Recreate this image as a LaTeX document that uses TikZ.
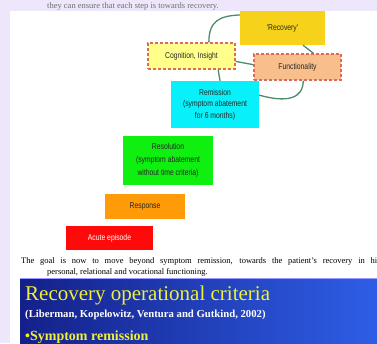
\documentclass[tikz,border=0pt]{standalone}
\usepackage{fontspec}
\setmainfont{Liberation Serif}
\newfontfamily\boxfont[FakeStretch=0.8]{Liberation Sans}
\usetikzlibrary{calc}
\definecolor{lav}{HTML}{EEE6FA}
\definecolor{recfill}{HTML}{F6D31A}
\definecolor{cogfill}{HTML}{FFFF8A}
\definecolor{funfill}{HTML}{F8BE8C}
\definecolor{dashred}{HTML}{DD6A5A}
\definecolor{remfill}{HTML}{08F0FA}
\definecolor{resfill}{HTML}{10F010}
\definecolor{respfill}{HTML}{FF9A08}
\definecolor{acutefill}{HTML}{FF0A0A}
\definecolor{conn}{HTML}{4C8C6A}
\definecolor{navyL}{HTML}{14208A}
\definecolor{blueR}{HTML}{2E5EE6}
\definecolor{ttlyellow}{HTML}{F0F03A}
\definecolor{topgray}{HTML}{707070}
\tikzset{
  stagebox/.style={draw=none, inner sep=0pt, align=center, text=black!85,
    font=\boxfont\fontsize{8.5}{11.5}\selectfont},
  dashbox/.style={stagebox, draw=dashred, line width=1.1pt, dash pattern=on 3pt off 2pt},
  connector/.style={draw=conn, line width=1.3pt},
  serif/.style={inner sep=0pt, anchor=base west}
}
\begin{document}
\begin{tikzpicture}[x=1pt,y=-1pt]
\useasboundingbox (0,0) rectangle (377,343);
\fill[white] (0,0) rectangle (377,343);
\fill[lav] (0,0) rectangle (377,11);
\fill[lav] (0,0) rectangle (10,343);
\node[serif, text=topgray, font=\fontsize{8.5}{10}\selectfont] (toptext) at (47,8) {they can ensure that each step is towards recovery.};

% stage boxes
\node[stagebox, fill=recfill, minimum width=85pt, minimum height=34pt] (rec) at (282.5,28) {'Recovery'};
\node[dashbox, fill=cogfill, minimum width=87pt, minimum height=26pt] (cog) at (191.5,56) {Cognition, Insight};
\node[dashbox, fill=funfill, minimum width=87pt, minimum height=26pt] (fun) at (297.5,67) {Functionality};
\node[stagebox, fill=remfill, minimum width=88pt, minimum height=47pt] (rem) at (215,104.5) {Remission\\(symptom abatement\\for 6 months)};
\node[stagebox, fill=resfill, minimum width=90pt, minimum height=49pt, font=\boxfont\fontsize{8.5}{13}\selectfont] (res) at (168,160.5) {Resolution\\(symptom abatement\\without time criteria)};
\node[stagebox, fill=respfill, minimum width=80pt, minimum height=25pt] (resp) at (145,206.5) {Response};
\node[stagebox, fill=acutefill, minimum width=87pt, minimum height=24pt, text=white] (acute) at (109.5,238) {Acute episode};

% connectors
\draw[connector] (cog.38) .. controls +(0,-22) and +(-20,1) .. (rec.163);
\draw[connector] (rec.-40) -- (fun.40);
\draw[connector] (fun.177) -- (cog.-7);
\draw[connector] (rem.78) -- (cog.-27);
\draw[connector] (rem.12) .. controls +(28,8) and +(0,18) .. (fun.-67);

% paragraph
\node[serif, font=\fontsize{8.5}{10}\selectfont] (par1) at (21,263) {\makebox[356pt][s]{The goal is now to move beyond symptom remission, towards the patient's recovery in hi}};
\node[serif, font=\fontsize{8.5}{10}\selectfont] (par2) at (47,274) {personal, relational and vocational functioning.};

% blue slide
\shade[left color=navyL, right color=blueR] (20,278) rectangle (377,343);
\draw[blue!40!white, line width=0.8pt] (20,278.4) -- (377,278.4);
\node[serif, text=ttlyellow, font=\fontsize{21}{22}\selectfont] (title) at (25,300) {Recovery operational criteria};
\node[serif, text=white, font=\bfseries\fontsize{10.7}{12}\selectfont] (authors) at (25,317) {(Liberman, Kopelowitz, Ventura and Gutkind, 2002)};
\node[serif, text=ttlyellow, font=\bfseries\fontsize{14}{15}\selectfont] (bullet) at (25,340) {•Symptom remission};
\end{tikzpicture}
\end{document}
